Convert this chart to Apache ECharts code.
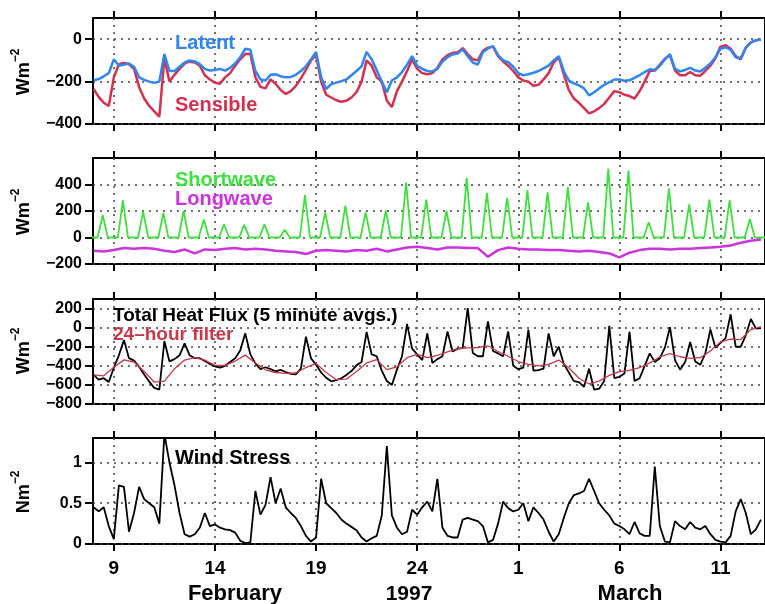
<!DOCTYPE html>
<html>
<head>
<meta charset="utf-8">
<title>Surface fluxes, February - March 1997</title>
<script src="https://cdn.jsdelivr.net/npm/echarts@6/dist/echarts.min.js"></script>
<style>html,body{margin:0;padding:0;background:#fff;}</style>
</head>
<body>
<div id="main" style="width:765px;height:604px;"></div>
<script>
// time in days counted from 0 Feb 1997, so 1 March = 29
var T0 = 8, DT = 0.25;      // quarter-day series
var T0H = 8, DTH = 0.5;     // half-day series
var dayTicks = [9, 14, 19, 24, 29, 34, 39];
var dayNames = ['9', '14', '19', '24', '1', '6', '11'];

// W m-2, one value every 6 h from 8 Feb 00h
var latent = [
  -195,-188,-175,-160, -95,-125,-120,-115, -130,-180,-192,-200, -205,-200,-70,-150,
  -150,-130,-110,-100, -105,-118,-140,-148, -145,-140,-148,-135, -115,-85,-45,-50,
  -150,-190,-195,-168, -165,-175,-180,-178, -168,-150,-128,-95, -60,-180,-235,-212,
  -205,-198,-190,-170, -150,-128,-60,-95, -146,-200,-250,-195, -180,-155,-120,-80,
  -125,-140,-150,-152, -140,-105,-85,-72, -68,-48,-80,-110, -120,-60,-45,-32,
  -75,-100,-108,-130, -160,-170,-165,-158, -150,-138,-125,-100, -80,-150,-195,-208,
  -218,-232,-265,-250, -232,-215,-203,-190, -190,-196,-194,-182, -170,-155,-142,-145,
  -125,-95,-70,-140, -152,-145,-135,-148, -152,-135,-115,-85, -45,-38,-50,-85,
  -90,-40,-15,-5, -2
];
var sensible = [
  -235,-272,-300,-315, -180,-118,-112,-118, -140,-225,-280,-315, -340,-365,-90,-200,
  -168,-140,-115,-105, -110,-125,-170,-190, -205,-210,-180,-160, -125,-95,-70,-70,
  -180,-225,-232,-190, -210,-240,-258,-245, -220,-185,-145,-100, -75,-200,-262,-275,
  -288,-295,-290,-275, -250,-200,-100,-125, -180,-200,-290,-320, -245,-200,-150,-95,
  -140,-160,-165,-160, -135,-95,-75,-65, -62,-42,-70,-95, -100,-55,-40,-35,
  -80,-105,-125,-150, -180,-195,-200,-220, -215,-190,-160,-110, -85,-165,-240,-280,
  -300,-325,-350,-340, -325,-305,-275,-245, -250,-262,-268,-280, -245,-200,-150,-148,
  -120,-92,-75,-148, -170,-170,-155,-170, -172,-150,-125,-90, -35,-28,-45,-80,
  -95,-40,-15,-5, -2
];

// shortwave: midday peak of each day 8 Feb .. 12 Mar, zero at night
var swPeak = [170,280,195,185,200,135,100,95,100,58,320,190,240,190,205,415,285,200,
  450,335,300,355,340,380,265,520,505,115,370,250,285,280,140];
var SUNRISE = 0.2, NOON = 0.45, SUNSET = 0.7;
// longwave, one value every 12 h
var longwave = [
  -100,-105,-95,-80,-85,-80,-85,-100,-110,-90,
  -120,-90,-95,-85,-80,-90,-85,-90,-100,-105,
  -110,-125,-100,-95,-100,-105,-95,-100,-85,-105,
  -90,-75,-70,-80,-90,-75,-75,-80,-80,-145,
  -95,-75,-85,-90,-90,-95,-95,-100,-105,-100,
  -110,-120,-150,-115,-95,-85,-85,-90,-85,-85,
  -80,-75,-70,-60,-40,-25,-15
];

// total heat flux, every 6 h
var total = [
  -495,-545,-530,-570, -420,-290,-130,-320, -345,-410,-490,-565, -631,-649,-140,-354,
  -330,-290,-165,-290, -320,-320,-350,-380, -406,-420,-400,-360, -320,-240,-60,-280,
  -375,-435,-415,-435, -458,-442,-465,-485, -490,-430,-95,-320, -390,-470,-525,-562,
  -550,-530,-495,-455, -395,-360,-45,-280, -300,-450,-560,-600, -440,-300,40,-220,
  -280,-340,-60,-370, -330,-300,-40,-250, -220,-215,205,-265, -300,-300,65,-245,
  -270,-300,-40,-400, -435,-420,-20,-450, -445,-430,-60,-300, -200,-380,-470,-560,
  -570,-620,-430,-650, -640,-560,20,-530, -515,-480,-45,-560, -530,-400,-270,-360,
  -320,-210,5,-340, -440,-360,-150,-355, -390,-270,-20,-210, -160,-110,140,-200,
  -200,-80,90,-10, -5
];
// 24-hour filter, every 12 h
var filtered = [
  -495,-505,-415,-338,-360,-460,-570,-560,-430,-340,
  -315,-340,-395,-395,-350,-288,-370,-442,-470,-480,
  -475,-418,-375,-470,-545,-540,-460,-370,-335,-440,
  -410,-315,-280,-315,-290,-255,-220,-212,-208,-190,
  -250,-300,-355,-385,-400,-385,-340,-420,-530,-590,
  -560,-500,-460,-448,-420,-370,-305,-272,-305,-323,
  -315,-245,-150,-120,-125,-20,10
];

// wind stress N m-2, every 6 h
var wind = [
  0.45,0.40,0.45,0.22, 0.06,0.72,0.70,0.15, 0.38,0.70,0.55,0.50, 0.45,0.25,1.35,1.00,
  0.72,0.38,0.12,0.09, 0.12,0.20,0.38,0.22, 0.24,0.20,0.18,0.17, 0.14,0.04,0.01,0.02,
  0.65,0.36,0.48,0.82, 0.50,0.68,0.45,0.38, 0.32,0.22,0.10,0.03, 0.08,0.80,0.50,0.44,
  0.38,0.30,0.25,0.21, 0.17,0.08,0.03,0.07, 0.10,0.35,1.20,0.35, 0.20,0.12,0.15,0.42,
  0.36,0.45,0.52,0.40, 0.80,0.20,0.10,0.08, 0.08,0.30,0.32,0.30, 0.28,0.22,0.02,0.05,
  0.25,0.52,0.44,0.40, 0.42,0.50,0.28,0.45, 0.38,0.30,0.15,0.03, 0.12,0.32,0.50,0.60,
  0.62,0.65,0.80,0.65, 0.50,0.42,0.35,0.25, 0.22,0.18,0.12,0.27, 0.13,0.10,0.10,0.95,
  0.22,0.03,0.02,0.28, 0.22,0.18,0.27,0.20, 0.18,0.22,0.12,0.05, 0.03,0.02,0.10,0.40,
  0.55,0.38,0.12,0.18, 0.30
];

function timed(vals, t0, dt) {
  return vals.map(function (v, i) { return [t0 + i * dt, v]; });
}
function shortwaveSeries() {
  var out = [];
  swPeak.forEach(function (p, i) {
    var d = 8 + i;
    out.push([d + SUNRISE, 0], [d + NOON, p], [d + SUNSET, 0]);
  });
  out.unshift([7.9, 0]);
  out.push([41.2, 0]);
  return out;
}

var FONT = '"Liberation Sans", Arial, Helvetica, sans-serif';
var X_MIN = 7.97, X_MAX = 41.2, PX_PER_DAY = 20.36;
var dotted = { type: [2, 5], color: '#444', width: 1.5 };

var panels = [
  { top: 18,  height: 106, min: -400, max: 100, step: 200, ticks: [-400, -200, 0] },
  { top: 158, height: 106, min: -200, max: 600, step: 200, ticks: [-200, 0, 200, 400] },
  { top: 299, height: 105, min: -800, max: 300, step: 200, ticks: [-800, -600, -400, -200, 0, 200] },
  { top: 438, height: 106, min: 0,    max: 1.3, step: 0.5, ticks: [0, 0.5, 1] }
];

function fmtY(v) { return v < 0 ? '\u2212' + (-v) : String(v); }

var grids = [], xAxes = [], yAxes = [];
panels.forEach(function (p, i) {
  grids.push({
    left: 93, top: p.top, height: p.height, width: (X_MAX - X_MIN) * PX_PER_DAY,
    show: true, borderColor: '#000', borderWidth: 2, backgroundColor: 'transparent'
  });
  // bottom axis (labels only on the last panel)
  xAxes.push({
    type: 'value', gridIndex: i, position: 'bottom', min: X_MIN, max: X_MAX,
    axisLine: { show: false, onZero: false },
    axisTick: { show: true, inside: false, length: 7, customValues: dayTicks,
      lineStyle: { color: '#000', width: 2 } },
    axisLabel: { show: i === 3, customValues: dayTicks, margin: 15,
      fontSize: 19, fontWeight: 'bold', fontFamily: FONT, color: '#000',
      formatter: function (v) { return dayNames[dayTicks.indexOf(Math.round(v))] || ''; } },
    splitLine: { show: true, lineStyle: dotted }
  });
  // top axis, ticks only
  xAxes.push({
    type: 'value', gridIndex: i, position: 'top', min: X_MIN, max: X_MAX,
    axisLine: { show: false, onZero: false },
    axisTick: { show: true, inside: false, length: 7, customValues: dayTicks,
      lineStyle: { color: '#000', width: 2 } },
    axisLabel: { show: false },
    splitLine: { show: false }
  });
  yAxes.push({
    type: 'value', gridIndex: i, min: p.min, max: p.max, interval: p.step,
    axisLine: { show: false, onZero: false },
    axisTick: { show: true, inside: false, length: 8, customValues: p.ticks,
      lineStyle: { color: '#000', width: 2 } },
    axisLabel: { customValues: p.ticks, margin: 11, fontSize: 16, fontWeight: 'bold',
      fontFamily: FONT, color: '#000', formatter: fmtY },
    splitLine: { show: true, lineStyle: dotted }
  });
});

function line(name, data, panel, color, width) {
  return {
    name: name, type: 'line', data: data, xAxisIndex: panel * 2, yAxisIndex: panel,
    showSymbol: false, symbol: 'none', lineStyle: { color: color, width: width },
    itemStyle: { color: color }, animation: false
  };
}

function label(text, x, y, color, size) {
  return { type: 'text', x: x, y: y, z: 100,
    style: { text: text, fill: color, font: 'bold ' + size + 'px ' + FONT, verticalAlign: 'middle' } };
}
function unitLabel(base, y) {
  return { type: 'text', x: 24, y: y, rotation: Math.PI / 2, z: 100,
    style: { text: '{m|' + base + '}{s|\u22122}', align: 'center', verticalAlign: 'middle',
      rich: {
        m: { font: 'bold 18px ' + FONT, fill: '#000', lineHeight: 28 },
        s: { font: 'bold 12px ' + FONT, fill: '#000', verticalAlign: 'top' }
      } } };
}
function bottomWord(text, x, size) {
  return { type: 'text', x: x, y: 594,
    style: { text: text, align: 'center', verticalAlign: 'middle', fill: '#000', font: 'bold ' + size + 'px ' + FONT } };
}

var BLUE = '#2f86f0', RED = '#d4304f', GREEN = '#3ee03e', MAGENTA = '#cc33dd', FILTER = '#c8384a';

var option = {
  animation: false,
  textStyle: { fontFamily: FONT },
  grid: grids,
  xAxis: xAxes,
  yAxis: yAxes,
  series: [
    line('Sensible', timed(sensible, T0, DT), 0, RED, 2.5),
    line('Latent', timed(latent, T0, DT), 0, BLUE, 2.5),
    line('Shortwave', shortwaveSeries(), 1, GREEN, 1.8),
    line('Longwave', timed(longwave, T0H, DTH), 1, MAGENTA, 2.5),
    line('Total Heat Flux', timed(total, T0, DT), 2, '#000', 1.8),
    line('24-hour filter', timed(filtered, T0H, DTH), 2, FILTER, 1.3),
    line('Wind Stress', timed(wind, T0, DT), 3, '#000', 1.8)
  ],
  graphic: [
    label('Latent', 175, 43, BLUE, 20),
    label('Sensible', 175, 105, RED, 20),
    label('Shortwave', 175, 180, GREEN, 20),
    label('Longwave', 175, 199, MAGENTA, 20),
    label('Total Heat Flux (5 minute avgs.)', 113, 316, '#000', 19),
    label('24\u2013hour filter', 113, 335, FILTER, 19),
    label('Wind Stress', 175, 458, '#000', 20),
    unitLabel('Wm', 72),
    unitLabel('Wm', 212),
    unitLabel('Wm', 351),
    unitLabel('Nm', 492),
    bottomWord('February', 235, 22),
    bottomWord('1997', 409, 21),
    bottomWord('March', 630, 22)
  ]
};

var chart = echarts.init(document.getElementById('main'));
chart.setOption(option);
</script>
</body>
</html>
